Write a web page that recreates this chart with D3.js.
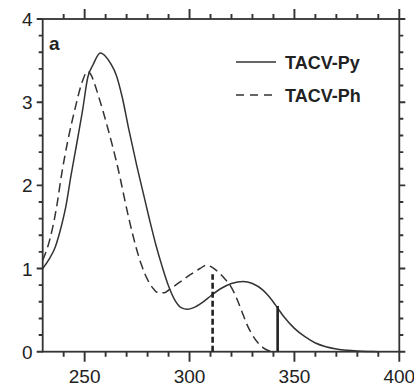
<!DOCTYPE html>
<html>
<head>
<meta charset="utf-8">
<script src="https://cdn.jsdelivr.net/npm/d3@7"></script>
<style>
  body { margin: 0; background: #fff; }
  svg { display: block; }
</style>
</head>
<body>
<div id="chart"></div>
<script>

// Data (wavelength in nm, absorbance)
const wlPy  = [230, 233, 236, 239, 241, 243.5, 246, 249, 251.5, 254, 257.5, 260, 262.5, 265, 268, 271, 275, 278, 281, 284, 287, 290, 293, 296, 299, 302, 306, 310, 315, 320, 325.5, 330, 335, 338, 341, 345, 350, 355, 360, 365, 370, 375, 380, 385, 390];
const absPy = [1.00, 1.11, 1.26, 1.52, 1.74, 2.12, 2.47, 2.90, 3.30, 3.45, 3.59, 3.55, 3.46, 3.33, 3.05, 2.68, 2.22, 1.90, 1.58, 1.28, 1.02, 0.79, 0.62, 0.53, 0.51, 0.53, 0.59, 0.67, 0.76, 0.82, 0.845, 0.82, 0.74, 0.66, 0.56, 0.42, 0.28, 0.18, 0.105, 0.06, 0.033, 0.017, 0.008, 0.003, 0];

const wlPh  = [230, 233.5, 236.5, 239, 242, 245.5, 248.5, 251.5, 253, 255, 257, 259, 261, 263, 265, 267, 269, 271, 273, 275, 277, 279, 281, 283, 285, 288, 291, 295, 300, 305, 308, 311, 314, 317, 320, 322.5, 325, 327.5, 330, 332.5, 335, 337.5, 340];
const absPh = [1.10, 1.36, 1.72, 2.13, 2.54, 2.93, 3.22, 3.37, 3.33, 3.20, 3.04, 2.87, 2.69, 2.50, 2.30, 2.08, 1.84, 1.61, 1.40, 1.21, 1.05, 0.92, 0.82, 0.75, 0.71, 0.71, 0.76, 0.83, 0.92, 1.00, 1.04, 1.01, 0.95, 0.87, 0.77, 0.64, 0.48, 0.32, 0.20, 0.11, 0.05, 0.015, 0];

// vertical marker lines (Ph dashed, Py solid)
const markerWl  = [311, 342];
const markerAbs = [0.93, 0.55];
const markerDash = ['6,3', null];

const seriesNames = ['TACV-Py', 'TACV-Ph'];
const xTickLabels = [250, 300, 350, 400];
const yTickLabels = [0, 1, 2, 3, 4];

// Page Dimensions
const W = 414, H = 387;
const plot = {left: 42.7, right: 399.3, top: 19, bottom: 351.7};
const ink = '#333';
const font_family = "'Liberation Sans', Arial, sans-serif";

const svg = d3.select('#chart').append('svg')
  .attr('width', W)
  .attr('height', H);

const x = d3.scaleLinear().domain([230, 400]).range([plot.left, plot.right]);
const y = d3.scaleLinear().domain([0, 4]).range([plot.bottom, plot.top]);

const xMinor = d3.range(240, 400, 10).filter(v => !xTickLabels.includes(v));
const yMinor = d3.range(0.2, 4, 0.2).filter(v => Math.abs(v - Math.round(v)) > 1e-6);

// Ticks, all pointing outward
const xTicks = xTickLabels.map(v => [v, 10]).concat(xMinor.map(v => [v, 5]));
const yTicks = yTickLabels.map(v => [v, 6]).concat(yMinor.map(v => [v, 4]));

const tickPath = d3.path();
xTicks.forEach(([v, len]) => {
  tickPath.moveTo(x(v), plot.bottom);
  tickPath.lineTo(x(v), plot.bottom + len);
  tickPath.moveTo(x(v), plot.top);
  tickPath.lineTo(x(v), plot.top - len);
});
yTicks.forEach(([v, len]) => {
  tickPath.moveTo(plot.left, y(v));
  tickPath.lineTo(plot.left - len, y(v));
  tickPath.moveTo(plot.right, y(v));
  tickPath.lineTo(plot.right + len, y(v));
});

svg.append('path')
  .attr('d', tickPath.toString())
  .style('fill', 'none')
  .style('stroke', ink)
  .style('stroke-width', '1.9px');

// Frame
svg.append('rect')
  .attr('x', plot.left)
  .attr('y', plot.top)
  .attr('width', plot.right - plot.left)
  .attr('height', plot.bottom - plot.top)
  .attr('fill', 'none')
  .attr('stroke', ink)
  .attr('stroke-width', 1.8);

// Tick labels
svg.append('g').selectAll('text')
  .data(xTickLabels)
  .enter().append('text')
  .attr('x', d => x(d))
  .attr('y', 382.5)
  .attr('text-anchor', 'middle')
  .attr('font-family', font_family)
  .attr('font-size', 19)
  .attr('fill', '#222')
  .text(d => d);

svg.append('g').selectAll('text')
  .data(yTickLabels)
  .enter().append('text')
  .attr('x', 32.5)
  .attr('y', d => y(d) + 7)
  .attr('text-anchor', 'end')
  .attr('font-family', font_family)
  .attr('font-size', 19)
  .attr('fill', '#222')
  .text(d => d);

// Curves
const line = d3.line()
  .x(d => x(d[0]))
  .y(d => y(d[1]))
  .curve(d3.curveMonotoneX);

svg.append('path')
  .datum(d3.zip(wlPy, absPy))
  .attr('d', line)
  .attr('fill', 'none')
  .attr('stroke', ink)
  .attr('stroke-width', 1.5);

svg.append('path')
  .datum(d3.zip(wlPh, absPh))
  .attr('d', line)
  .attr('fill', 'none')
  .attr('stroke', ink)
  .attr('stroke-width', 1.5)
  .attr('stroke-dasharray', '9,5');

// Marker lines
svg.append('g').selectAll('line')
  .data(d3.zip(markerWl, markerAbs, markerDash))
  .enter().append('line')
  .attr('x1', d => x(d[0]))
  .attr('x2', d => x(d[0]))
  .attr('y1', y(0))
  .attr('y2', d => y(d[1]))
  .attr('stroke', '#222')
  .attr('stroke-width', 2.6)
  .attr('stroke-dasharray', d => d[2]);

// Panel letter
svg.append('text')
  .attr('x', 49)
  .attr('y', 50)
  .attr('font-family', font_family)
  .attr('font-weight', 'bold')
  .attr('font-size', 19)
  .attr('fill', '#222')
  .text('a');

// Legend
const legend = svg.append('g').selectAll('g')
  .data(seriesNames)
  .enter().append('g')
  .attr('transform', (d, i) => `translate(236,${62 + i * 33})`);

legend.append('line')
  .attr('x1', 0)
  .attr('x2', 40)
  .attr('stroke', ink)
  .attr('stroke-width', 1.5)
  .attr('stroke-dasharray', (d, i) => i === 1 ? '8,6' : null);

legend.append('text')
  .attr('x', 49)
  .attr('y', 6.5)
  .attr('font-family', font_family)
  .attr('font-weight', 'bold')
  .attr('font-size', 18)
  .attr('fill', '#222')
  .text(d => d);

</script>
</body>
</html>
